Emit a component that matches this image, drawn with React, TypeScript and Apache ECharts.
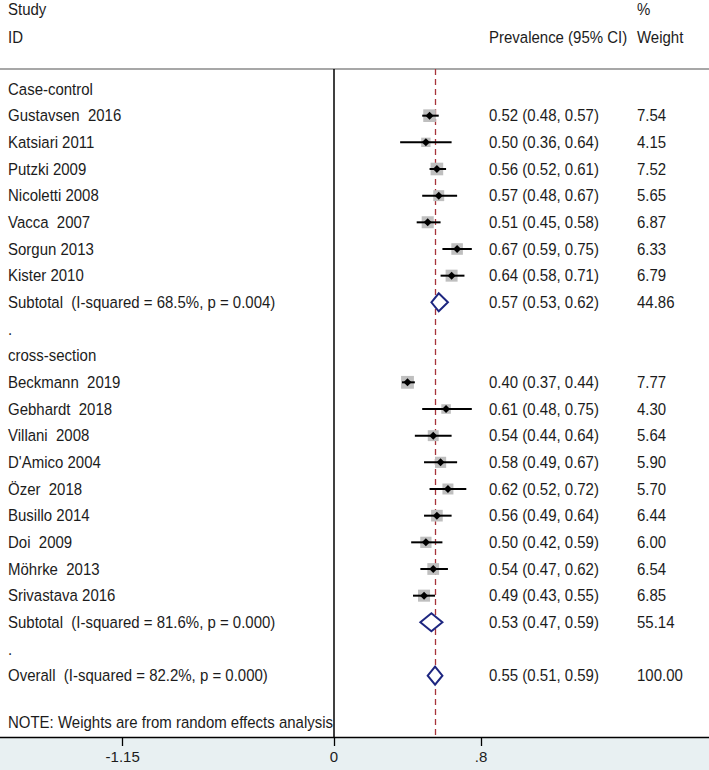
import React, { useEffect, useRef } from "react";
import * as echarts from "echarts";

const ccStudies = ["Gustavsen\u00a0 2016", "Katsiari 2011", "Putzki 2009", "Nicoletti 2008", "Vacca\u00a0 2007", "Sorgun 2013", "Kister 2010"];
const ccEst = [0.52, 0.5, 0.56, 0.57, 0.51, 0.67, 0.64];
const ccLo = [0.48, 0.36, 0.52, 0.48, 0.45, 0.59, 0.58];
const ccHi = [0.57, 0.64, 0.61, 0.67, 0.58, 0.75, 0.71];
const ccW = [7.54, 4.15, 7.52, 5.65, 6.87, 6.33, 6.79];

const csStudies = ["Beckmann\u00a0 2019", "Gebhardt\u00a0 2018", "Villani\u00a0 2008", "D'Amico 2004", "Özer\u00a0 2018", "Busillo 2014", "Doi\u00a0 2009", "Möhrke\u00a0 2013", "Srivastava 2016"];
const csEst = [0.4, 0.61, 0.54, 0.58, 0.62, 0.56, 0.5, 0.54, 0.49];
const csLo = [0.37, 0.48, 0.44, 0.49, 0.52, 0.49, 0.42, 0.47, 0.43];
const csHi = [0.44, 0.75, 0.64, 0.67, 0.72, 0.64, 0.59, 0.62, 0.55];
const csW = [7.77, 4.3, 5.64, 5.9, 5.7, 6.44, 6.0, 6.54, 6.85];

const subLabels = ["Subtotal\u00a0 (I-squared = 68.5%, p = 0.004)", "Subtotal\u00a0 (I-squared = 81.6%, p = 0.000)"];
const subEst = [0.57, 0.53];
const subLo = [0.53, 0.47];
const subHi = [0.62, 0.59];
const subW = [44.86, 55.14];

const overallLabel = "Overall\u00a0 (I-squared = 82.2%, p = 0.000)";
const overallEst = 0.55;
const overallLo = 0.51;
const overallHi = 0.59;
const overallW = 100.0;

const groupLabels = ["Case-control", "cross-section"];
const noteText = "NOTE: Weights are from random effects analysis";
const tickValues = [-1.15, 0, 0.8];
const tickLabels = ["-1.15", "0", ".8"];

type Row = { row: number; kind: string; label: string; est?: number; lo?: number; hi?: number; w?: number };

function buildRows(): Row[] {
  const rows: Row[] = [];
  let r = 0;
  rows.push({ row: r++, kind: "text", label: groupLabels[0] });
  ccStudies.forEach((s, i) => rows.push({ row: r++, kind: "study", label: s, est: ccEst[i], lo: ccLo[i], hi: ccHi[i], w: ccW[i] }));
  rows.push({ row: r++, kind: "sub", label: subLabels[0], est: subEst[0], lo: subLo[0], hi: subHi[0], w: subW[0] });
  rows.push({ row: r++, kind: "text", label: "." });
  rows.push({ row: r++, kind: "text", label: groupLabels[1] });
  csStudies.forEach((s, i) => rows.push({ row: r++, kind: "study", label: s, est: csEst[i], lo: csLo[i], hi: csHi[i], w: csW[i] }));
  rows.push({ row: r++, kind: "sub", label: subLabels[1], est: subEst[1], lo: subLo[1], hi: subHi[1], w: subW[1] });
  rows.push({ row: r++, kind: "text", label: "." });
  rows.push({ row: r++, kind: "sub", label: overallLabel, est: overallEst, lo: overallLo, hi: overallHi, w: overallW });
  rows.push({ row: 23.75, kind: "text", label: noteText });
  return rows;
}

const FONT = "Liberation Sans, Arial, sans-serif";
const FS = 15;
const SY = 1.12;
const TXT = "#1c1c1c";
const CI_X = 489;
const W_X = 637;

export default function App() {
  const ref = useRef<HTMLDivElement>(null);
  useEffect(() => {
    document.body.style.margin = "0";
    if (!ref.current) return;
    const chart = echarts.init(ref.current, undefined, { renderer: "svg" });
    const rows = buildRows();
    const scalePx = 183.75;
    const xMin = -334 / scalePx;
    const xMax = (709 - 334) / scalePx;
    const fmt = (v: number) => v.toFixed(2);
    const font = `${FS}px ${FONT}`;
    const txt = (text: string, x: number, y: number) => ({
      type: "text",
      x,
      y,
      scaleY: SY,
      style: { text, font, fill: TXT, verticalAlign: "middle" },
    });

    const option: any = {
      animation: false,
      backgroundColor: "#ffffff",
      grid: { left: 0, right: 0, top: 69, bottom: 33 },
      xAxis: {
        type: "value",
        min: xMin,
        max: xMax,
        splitLine: { show: false },
        axisLine: { show: true, onZero: false, lineStyle: { color: "#000", width: 1.3 } },
        axisTick: { show: true, customValues: tickValues, length: 9, lineStyle: { color: "#000", width: 1.3 } },
        axisLabel: {
          customValues: tickValues,
          margin: 12,
          fontSize: FS,
          fontFamily: FONT,
          color: TXT,
          formatter: (v: number) => tickLabels[tickValues.findIndex((t) => Math.abs(t - v) < 1e-6)] ?? "",
        },
      },
      yAxis: { type: "value", inverse: true, min: -0.75, max: 24.3, show: false },
      graphic: [
        { type: "rect", shape: { x: 0, y: 737, width: 709, height: 33 }, style: { fill: "#e8f0f2" }, z: -10 },
        { type: "line", shape: { x1: 0, y1: 69, x2: 709, y2: 69 }, style: { stroke: "#8a8a8a", lineWidth: 1.5 } },
        txt("Study", 8, 9),
        txt("ID", 8, 37),
        txt("Prevalence (95% CI)", CI_X, 37),
        txt("%", W_X, 9),
        txt("Weight", W_X, 37),
      ],
      series: [
        {
          type: "custom",
          data: rows.map((r) => [r.est ?? 0, r.row]),
          clip: false,
          z: 5,
          renderItem: (params: any, api: any) => {
            const r = rows[params.dataIndex];
            const y = api.coord([0, r.row])[1];
            const children: any[] = [];
            children.push(txt(r.label, 8, y));
            if (r.kind === "study" || r.kind === "sub") {
              children.push(txt(`${fmt(r.est!)} (${fmt(r.lo!)}, ${fmt(r.hi!)})`, CI_X, y));
              children.push(txt(fmt(r.w!), W_X, y));
            }
            if (r.kind === "study") {
              const cx = api.coord([r.est!, r.row])[0];
              const xl = api.coord([r.lo!, r.row])[0];
              const xh = api.coord([r.hi!, r.row])[0];
              const s = 4.6 * Math.sqrt(r.w!);
              children.push({ type: "rect", shape: { x: cx - s / 2, y: y - s / 2, width: s, height: s }, style: { fill: "#bfbfbf" } });
              children.push({ type: "line", shape: { x1: xl, y1: y, x2: xh, y2: y }, style: { stroke: "#000", lineWidth: 2 } });
              children.push({
                type: "polygon",
                shape: { points: [[cx - 4, y], [cx, y - 4], [cx + 4, y], [cx, y + 4]] },
                style: { fill: "#000" },
              });
            } else if (r.kind === "sub") {
              const cx = api.coord([r.est!, r.row])[0];
              const xl = api.coord([r.lo!, r.row])[0];
              const xh = api.coord([r.hi!, r.row])[0];
              children.push({
                type: "polygon",
                shape: { points: [[xl, y], [cx, y - 9], [xh, y], [cx, y + 9]] },
                style: { fill: "#fff", stroke: "#1d2680", lineWidth: 2 },
              });
            }
            return { type: "group", children };
          },
          markLine: {
            silent: true,
            symbol: "none",
            label: { show: false },
            data: [
              { xAxis: 0, lineStyle: { color: "#000", width: 1.5, type: "solid" } },
              { xAxis: overallEst, lineStyle: { color: "#a8343a", width: 1.3, type: [6, 4] } },
            ],
          },
        },
      ],
    };
    chart.setOption(option);
    return () => chart.dispose();
  }, []);
  return <div ref={ref} style={{ width: 709, height: 770 }} />;
}
